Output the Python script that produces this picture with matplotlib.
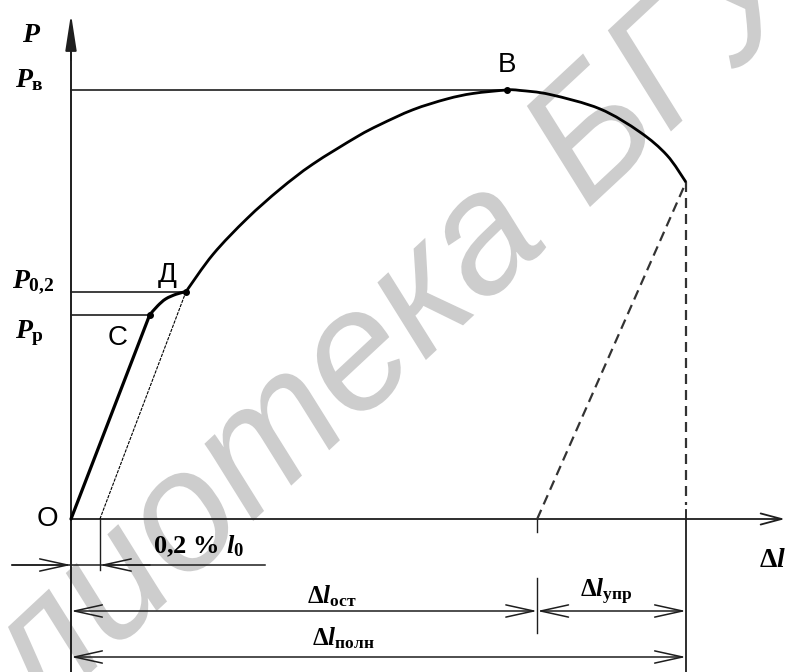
import numpy as np
import matplotlib
matplotlib.use('Agg')
import matplotlib.pyplot as plt
from matplotlib.patches import FancyArrowPatch, PathPatch
from matplotlib.path import Path
from matplotlib.textpath import TextPath
from matplotlib.font_manager import FontProperties
from matplotlib.transforms import Affine2D

plt.rcParams['mathtext.fontset'] = 'custom'
plt.rcParams['mathtext.rm'] = 'Liberation Serif:bold'
plt.rcParams['mathtext.it'] = 'Liberation Serif:italic:bold'
plt.rcParams['mathtext.bf'] = 'Liberation Serif:bold'

# ---- tension diagram data: elongation (relative units), load (% of P_в)
dl_elastic = [0.0, 1.28]
p_elastic = [0.0, 47.6]
dl_yield = [1.28, 1.41, 1.54, 1.71, 1.87]
p_yield = [47.6, 49.7, 51.3, 52.4, 53.0]
dl_hard = [1.87, 2.31, 2.86, 3.40, 3.93, 4.65, 5.02, 5.56, 6.11, 6.54, 7.09]
p_hard = [53.0, 61.7, 70.0, 76.9, 82.7, 89.1, 91.9, 95.4, 97.9, 99.2, 100.0]
dl_neck = [7.30, 7.79, 8.60, 9.25, 9.69, 10.0]
p_neck = [99.9, 98.95, 95.6, 90.2, 84.8, 78.5]

P_p = 47.6      # proportionality limit (C)
P_02 = 53.0     # offset yield (Д)
P_b = 100.0     # ultimate load (В)
dl_C = 1.28
dl_D = 1.87
dl_B = 7.09
dl_02 = 0.47    # 0,2 % l0 offset
dl_ost = 7.58   # residual elongation
dl_poln = 10.0  # total elongation
P_k = 78.5      # load at rupture

# ---- sheet layout (pixel grid -> diagram units)
W, H = 787, 672
OX, OY = 71, 519
SX, SY = 61.5, 4.29


def X(px):
    return (px - OX) / SX


def Y(py):
    return (OY - py) / SY


def smooth_path(xs, ys):
    # cubic Bezier segments through every point (Catmull-Rom tangents)
    p = np.column_stack([xs, ys]).astype(float)
    n = len(p)
    verts, codes = [p[0]], [Path.MOVETO]
    for i in range(n - 1):
        p0 = p[max(i - 1, 0)]
        p3 = p[min(i + 2, n - 1)]
        c1 = p[i] + (p[i + 1] - p0) / 6
        c2 = p[i + 1] - (p3 - p[i]) / 6
        verts += [c1, c2, p[i + 1]]
        codes += [Path.CURVE4] * 3
    return Path(verts, codes)


fig = plt.figure(figsize=(W / 100, H / 100), dpi=100)
ax = fig.add_axes([0, 0, 1, 1])
ax.set_xlim(X(0), X(W))
ax.set_ylim(Y(H), Y(0))
ax.axis('off')

# watermark
wm_prop = FontProperties(family='Liberation Sans', style='italic')
wm_size = 170
wm_path = TextPath((0, 0), 'Библиотека БГУИР', size=wm_size, prop=wm_prop)
head = TextPath((0, 0), 'Библиотека Б', size=wm_size, prop=wm_prop).get_extents()
b_ext = TextPath((0, 0), 'Б', size=wm_size, prop=wm_prop).get_extents()
bx = head.x1 - (b_ext.x1 - b_ext.x0)
wm_tr = Affine2D().translate(-bx, 0).rotate_deg(43).translate(590, H - 207)
ax.add_patch(PathPatch(wm_path, transform=wm_tr, fc='#cdcdcd', ec='none', zorder=0))

ink = '#1e1e1e'

# axes with arrows
ax.plot([0, 0], [Y(H), Y(40)], color=ink, lw=1.4, zorder=2)
ax.add_patch(FancyArrowPatch((0, Y(60)), (0, Y(14)),
                             arrowstyle='-|>,head_length=1.1,head_width=0.17',
                             mutation_scale=20, lw=1.4, color=ink,
                             shrinkA=0, shrinkB=0, zorder=3))
ax.add_patch(FancyArrowPatch((0, 0), (X(785), 0),
                             arrowstyle='->,head_length=0.75,head_width=0.2',
                             mutation_scale=20, lw=1.3, color=ink,
                             shrinkA=0, shrinkB=0, zorder=3))

# load levels
for p, xe in [(P_b, dl_B), (P_02, dl_D), (P_p, dl_C)]:
    ax.plot([0, xe], [p, p], color=ink, lw=1.2, zorder=2)

# diagram curve
ax.plot(dl_elastic, p_elastic, color='black', lw=2.3, solid_capstyle='round', zorder=4)
ax.add_patch(PathPatch(smooth_path(dl_yield, p_yield), fc='none', ec='black',
                       lw=2.2, zorder=4))
ax.add_patch(PathPatch(smooth_path(dl_hard + dl_neck, p_hard + p_neck), fc='none',
                       ec='black', lw=2.0, zorder=4))
ax.plot([dl_C, dl_D, dl_B], [P_p, P_02, P_b], 'o', color='black', ms=4, zorder=5)

# offset line 0,2 % and unloading line
ax.plot([dl_02, dl_D], [0, P_02], color='black', lw=0.8, ls=(0, (3, 1)), zorder=3)
ax.plot([dl_ost, dl_poln], [0, P_k], color='#333333', lw=1.6, ls=(0, (4.5, 2.7)), zorder=3)
ax.plot([dl_poln, dl_poln], [P_k, Y(505)], color='#333333', lw=1.6, ls=(0, (4.5, 2.7)), zorder=3)

# extension and dimension lines
ax.plot([dl_poln, dl_poln], [Y(510), Y(H)], color=ink, lw=1.3, zorder=2)
ax.plot([dl_02, dl_02], [0, Y(570)], color=ink, lw=1.0, zorder=2)
ax.plot([dl_ost, dl_ost], [0, Y(532)], color=ink, lw=1.0, zorder=2)
ax.plot([dl_ost, dl_ost], [Y(578), Y(633)], color=ink, lw=1.0, zorder=2)

y02 = Y(565)
ax.plot([X(12), X(265)], [y02, y02], color=ink, lw=1.1, zorder=2)
dim_style = '->,head_length=1.0,head_width=0.22'
ax.add_patch(FancyArrowPatch((X(12), y02), (0, y02), arrowstyle=dim_style,
                             mutation_scale=20, lw=1.1, color=ink,
                             shrinkA=0, shrinkB=0, zorder=3))
ax.add_patch(FancyArrowPatch((X(150), y02), (dl_02, y02), arrowstyle=dim_style,
                             mutation_scale=20, lw=1.1, color=ink,
                             shrinkA=0, shrinkB=0, zorder=3))

both = '<->,head_length=1.0,head_width=0.22'
for x0, x1, yy in [(0, dl_ost, Y(611)), (dl_ost, dl_poln, Y(611)), (0, dl_poln, Y(657))]:
    ax.add_patch(FancyArrowPatch((x0, yy), (x1, yy), arrowstyle=both,
                                 mutation_scale=20, lw=1.1, color=ink,
                                 shrinkA=0, shrinkB=0, zorder=3))

# labels
ax.text(X(22), Y(42), r'$\mathit{P}$', fontsize=20, ha='left', va='baseline')
ax.text(X(15), Y(87), r'$\mathit{P}_{\mathrm{в}}$', fontsize=20, ha='left', va='baseline')
ax.text(X(12), Y(287), r'$\mathit{P}_{\mathrm{0{,}2}}$', fontsize=20, ha='left', va='baseline')
ax.text(X(15), Y(338), r'$\mathit{P}_{\mathrm{р}}$', fontsize=20, ha='left', va='baseline')

pt_font = dict(family='Liberation Sans', fontsize=20, ha='center', va='center')
ax.text(X(47), Y(519), 'О', **pt_font)
ax.text(X(118), Y(338), 'С', **pt_font)
ax.text(X(167), Y(275), 'Д', **pt_font)
ax.text(X(507), Y(65), 'В', **pt_font)

ax.text(X(153), Y(553), r'$\mathrm{0{,}2\ \%\ }\mathit{l}_{\mathrm{0}}$', fontsize=19,
        ha='left', va='baseline')
ax.text(X(307), Y(603), r'$\mathrm{Δ}\mathit{l}_{\mathrm{ост}}$', fontsize=18,
        ha='left', va='baseline')
ax.text(X(580), Y(597), r'$\mathrm{Δ}\mathit{l}_{\mathrm{упр}}$', fontsize=18,
        ha='left', va='baseline')
ax.text(X(312), Y(645), r'$\mathrm{Δ}\mathit{l}_{\mathrm{полн}}$', fontsize=18,
        ha='left', va='baseline')
ax.text(X(759), Y(567), r'$\mathrm{Δ}\mathit{l}$', fontsize=20, ha='left', va='baseline')

fig.savefig('out.png', dpi=100)
